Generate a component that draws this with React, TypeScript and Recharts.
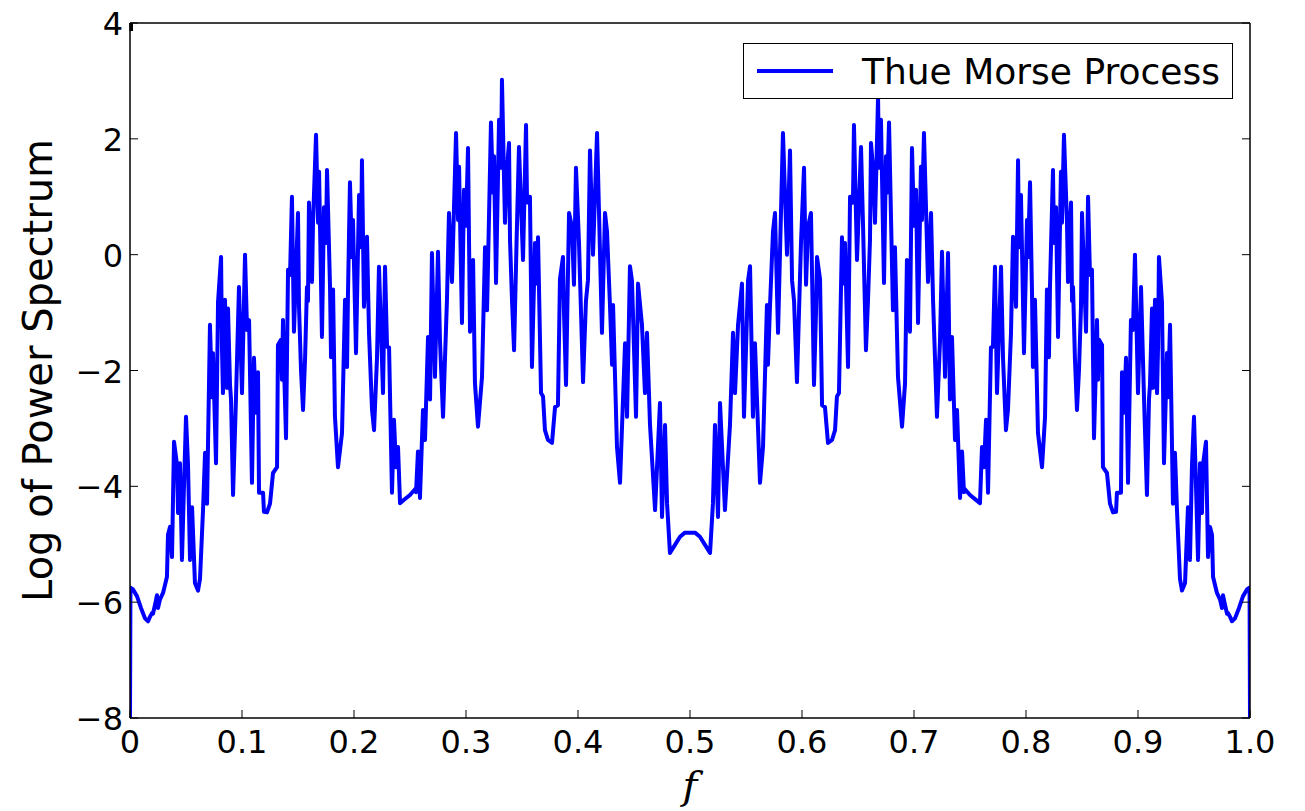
import React from "react";
import { LineChart, Line, XAxis, YAxis, Legend } from "recharts";

// frequency / log power (first half 0..0.5)
const freqLow = [
  0, 0.0004, 0.0027, 0.0063, 0.0098, 0.0134, 0.0161, 0.0179, 0.0196, 0.0205,
  0.0223, 0.0241, 0.025, 0.0268, 0.0295, 0.0313, 0.033, 0.0339, 0.0357, 0.0375,
  0.0393, 0.042, 0.0429, 0.0446, 0.0464, 0.0482, 0.05, 0.0518, 0.0536, 0.0554,
  0.058, 0.0607, 0.0625, 0.0652, 0.067, 0.0688, 0.0714, 0.0732, 0.0741, 0.0768,
  0.0786, 0.0813, 0.0821, 0.083, 0.0848, 0.0866, 0.0875, 0.0893, 0.0902, 0.092,
  0.0946, 0.0973, 0.1, 0.1027, 0.1045, 0.1063, 0.1089, 0.1107, 0.1125, 0.1143,
  0.1152, 0.1188, 0.1196, 0.1223, 0.125, 0.1277, 0.1313, 0.1321, 0.1348, 0.1357,
  0.1366, 0.1375, 0.1393, 0.1411, 0.1429, 0.1446, 0.1464, 0.1482, 0.15, 0.1509,
  0.1527, 0.1545, 0.1563, 0.158, 0.1589, 0.1598, 0.1625, 0.1634, 0.1661, 0.1679,
  0.1688, 0.1714, 0.1732, 0.175, 0.1759, 0.1786, 0.1795, 0.1813, 0.183, 0.1857,
  0.1893, 0.192, 0.1938, 0.1946, 0.1964, 0.1982, 0.1991, 0.2018, 0.2045, 0.2063,
  0.2071, 0.2089, 0.2116, 0.2134, 0.2161, 0.2179, 0.2205, 0.2223, 0.2259, 0.2277,
  0.2295, 0.2313, 0.2339, 0.2357, 0.2375, 0.2393, 0.2411, 0.2455, 0.25, 0.2545,
  0.2554, 0.2571, 0.2589, 0.2616, 0.2634, 0.2661, 0.2679, 0.2696, 0.2723, 0.275,
  0.2768, 0.2795, 0.283, 0.2848, 0.2875, 0.2911, 0.2929, 0.2938, 0.2964, 0.2982,
  0.3, 0.3018, 0.3036, 0.3063, 0.308, 0.3107, 0.3143, 0.317, 0.3188, 0.3223,
  0.3241, 0.325, 0.3268, 0.3295, 0.3313, 0.3321, 0.3348, 0.3366, 0.3384, 0.3393,
  0.3411, 0.3429, 0.3455, 0.3473, 0.3509, 0.3536, 0.3545, 0.3571, 0.3589, 0.3616,
  0.3634, 0.3643, 0.367, 0.3688, 0.3705, 0.3732, 0.3768, 0.3795, 0.3821, 0.3839,
  0.3866, 0.3875, 0.3893, 0.392, 0.3946, 0.3964, 0.3982, 0.4009, 0.4045, 0.4071,
  0.4089, 0.4107, 0.4134, 0.417, 0.4188, 0.4214, 0.4241, 0.4259, 0.4286, 0.4304,
  0.4313, 0.4348, 0.4375, 0.442, 0.4438, 0.4464, 0.4482, 0.4518, 0.4536, 0.4571,
  0.4598, 0.4616, 0.4643, 0.4688, 0.4732, 0.475, 0.4777, 0.4795, 0.4821, 0.4866,
  0.4911, 0.4955, 0.5,
];
const powerLow = [
  -8.0, -5.75, -5.78, -5.9, -6.1, -6.28, -6.33, -6.25, -6.19, -6.2,
  -6.05, -5.88, -6.1, -5.95, -5.84, -5.7, -5.56, -4.84, -4.7, -5.22,
  -3.23, -3.63, -4.46, -3.6, -5.27, -4.0, -2.8, -3.63, -5.27, -4.36,
  -5.67, -5.8, -5.6, -4.41, -3.42, -4.3, -1.21, -2.46, -1.7, -3.6,
  -0.82, -0.04, -1.59, -2.39, -0.78, -2.3, -0.93, -2.25, -2.5, -4.15,
  -2.5, -0.56, -2.39, 0.0, -1.3, -1.13, -3.94, -1.78, -2.73, -2.03,
  -4.11, -4.11, -4.44, -4.45, -4.3, -3.77, -3.67, -1.56, -1.47, -2.16,
  -1.13, -1.9, -3.17, -0.26, -0.35, 1.0, -1.33, -0.32, 0.72, -0.9,
  -2.0, -2.68, -1.8, -0.56, -0.8, 0.9, -0.47, 0.55, 2.07, 0.55,
  1.43, -1.42, 0.82, 0.2, 1.46, -0.56, -1.77, -0.6, -2.8, -3.67,
  -3.08, -0.78, -1.94, -0.7, 1.25, -0.04, 0.6, -1.7, 1.03, 0.13,
  1.63, -0.9, 0.31, -1.35, -2.68, -3.03, -1.8, -0.21, -2.39, -0.21,
  -1.59, -1.6, -4.11, -2.85, -3.67, -3.32, -4.29, -4.22, -4.15, -4.05,
  -4.1, -3.4, -4.2, -2.68, -3.2, -1.42, -2.5, 0.03, -2.11, 0.05,
  -1.5, -2.8, -0.78, 0.72, -0.47, 2.1, 0.6, 1.52, -1.18, 1.12,
  0.5, 1.84, -1.33, -0.09, -2.22, -2.97, -2.11, 0.13, -0.96, 2.28,
  1.07, 1.7, -0.49, 2.33, 1.5, 3.02, 0.55, 1.5, 1.93, 0.25,
  -0.8, -1.65, 0.5, 1.86, -0.09, 2.24, 0.9, 1.0, -1.94, 0.2,
  -0.5, 0.3, -2.39, -2.45, -3.03, -3.2, -3.25, -2.63, -2.6, -0.42,
  -0.04, -1.0, -2.25, 0.72, 0.48, -0.52, 1.5, 0.2, -2.2, -0.8,
  -0.44, 1.8, 0.0, 2.1, 0.7, -1.35, 0.72, 0.4, -0.9, -1.9,
  -0.87, -3.32, -3.94, -1.53, -2.8, -0.2, -0.45, -2.8, -0.5, -1.21,
  -2.39, -1.35, -2.94, -4.41, -2.56, -4.53, -2.94, -4.29, -5.15, -5.01,
  -4.87, -4.8, -4.8,
];

// second half 0.5..1
const freqHigh = [
  0.5045, 0.5089, 0.5134, 0.5179, 0.5205, 0.5223, 0.525, 0.5268, 0.5312, 0.5357,
  0.5384, 0.5402, 0.5429, 0.5464, 0.5482, 0.5518, 0.5536, 0.5562, 0.558, 0.5625,
  0.5652, 0.5687, 0.5696, 0.5714, 0.5741, 0.5759, 0.5786, 0.5812, 0.583, 0.5866,
  0.5893, 0.5911, 0.5929, 0.5955, 0.5991, 0.6018, 0.6036, 0.6054, 0.608, 0.6107,
  0.6125, 0.6134, 0.6161, 0.6179, 0.6205, 0.6232, 0.6268, 0.6295, 0.6312, 0.633,
  0.6357, 0.6366, 0.6384, 0.6411, 0.6429, 0.6455, 0.6464, 0.6491, 0.6527, 0.6545,
  0.6571, 0.6589, 0.6607, 0.6616, 0.6634, 0.6652, 0.6679, 0.6687, 0.6705, 0.6732,
  0.675, 0.6759, 0.6777, 0.6812, 0.683, 0.6857, 0.6893, 0.692, 0.6937, 0.6964,
  0.6982, 0.7, 0.7018, 0.7036, 0.7062, 0.7071, 0.7089, 0.7125, 0.7152, 0.717,
  0.7205, 0.7232, 0.725, 0.7277, 0.7304, 0.7321, 0.7339, 0.7366, 0.7384, 0.7411,
  0.7429, 0.7446, 0.7455, 0.75, 0.7545, 0.7589, 0.7607, 0.7625, 0.7643, 0.7661,
  0.7687, 0.7705, 0.7723, 0.7741, 0.7777, 0.7795, 0.7821, 0.7839, 0.7866, 0.7884,
  0.7911, 0.7929, 0.7937, 0.7955, 0.7982, 0.8009, 0.8018, 0.8036, 0.8054, 0.8062,
  0.808, 0.8107, 0.8143, 0.817, 0.8187, 0.8205, 0.8214, 0.8241, 0.825, 0.8268,
  0.8286, 0.8312, 0.8321, 0.8339, 0.8366, 0.8375, 0.8402, 0.8411, 0.842, 0.8437,
  0.8455, 0.8473, 0.8491, 0.85, 0.8518, 0.8536, 0.8554, 0.8571, 0.8589, 0.8607,
  0.8625, 0.8634, 0.8643, 0.8652, 0.8679, 0.8687, 0.8723, 0.875, 0.8777, 0.8804,
  0.8812, 0.8848, 0.8857, 0.8875, 0.8893, 0.8911, 0.8937, 0.8955, 0.8973, 0.9,
  0.9027, 0.9054, 0.908, 0.9098, 0.9107, 0.9125, 0.9134, 0.9152, 0.917, 0.9179,
  0.9187, 0.9214, 0.9232, 0.9259, 0.9268, 0.9286, 0.9312, 0.933, 0.9348, 0.9375,
  0.9393, 0.942, 0.9446, 0.9464, 0.9482, 0.95, 0.9518, 0.9536, 0.9554, 0.9571,
  0.958, 0.9607, 0.9625, 0.9643, 0.9661, 0.967, 0.9687, 0.9705, 0.9732, 0.975,
  0.9759, 0.9777, 0.9795, 0.9804, 0.9821, 0.9839, 0.9866, 0.9902, 0.9937, 0.9973,
  0.9996, 1.0,
];
const powerHigh = [
  -4.8, -4.87, -5.01, -5.15, -4.29, -2.94, -4.53, -2.56, -4.41, -2.94,
  -1.35, -2.39, -1.21, -0.5, -2.8, -0.45, -0.2, -2.8, -1.53, -3.94,
  -3.32, -0.87, -1.9, -0.9, 0.4, 0.72, -1.35, 0.7, 2.1, 0.0,
  1.8, -0.44, -0.8, -2.2, 0.2, 1.5, -0.52, 0.48, 0.72, -2.25,
  -1.0, -0.04, -0.42, -2.6, -2.63, -3.25, -3.2, -3.03, -2.45, -2.39,
  0.3, -0.5, 0.2, -1.94, 1.0, 0.9, 2.24, -0.09, 1.86, 0.5,
  -1.65, -0.8, 0.25, 1.93, 1.5, 0.55, 2.72, 1.5, 2.33, -0.49,
  1.7, 1.07, 2.28, -0.96, 0.13, -2.11, -2.97, -2.22, -0.09, -1.33,
  1.84, 0.5, 1.12, -1.18, 1.52, 0.6, 2.1, -0.47, 0.72, -0.78,
  -2.8, -1.5, 0.05, -2.11, 0.03, -2.5, -1.42, -3.2, -2.68, -4.2,
  -3.4, -4.1, -4.05, -4.15, -4.22, -4.29, -3.32, -3.67, -2.85, -4.11,
  -1.6, -1.59, -0.21, -2.39, -0.21, -1.8, -3.03, -2.68, -1.35, 0.31,
  -0.9, 1.63, 0.13, 1.03, -1.7, 0.6, -0.04, 1.25, -0.7, -1.94,
  -0.78, -3.08, -3.67, -2.8, -0.6, -1.77, -0.56, 1.46, 0.2, 0.82,
  -1.42, 1.43, 0.55, 2.07, 0.55, -0.47, 0.9, -0.8, -0.56, -1.8,
  -2.68, -2.0, -0.9, 0.72, -0.32, -1.33, 1.0, -0.35, -0.26, -3.17,
  -1.9, -1.13, -2.16, -1.47, -1.56, -3.67, -3.77, -4.3, -4.45, -4.44,
  -4.11, -4.11, -2.03, -2.73, -1.78, -3.94, -1.13, -1.3, 0.0, -2.39,
  -0.56, -2.5, -4.15, -2.5, -2.25, -0.93, -2.3, -0.78, -2.39, -1.59,
  -0.04, -0.82, -3.6, -1.7, -2.46, -1.21, -4.3, -3.42, -4.41, -5.6,
  -5.8, -5.67, -4.36, -5.27, -3.63, -2.8, -4.0, -5.27, -3.6, -4.46,
  -3.63, -3.23, -5.22, -4.7, -4.84, -5.56, -5.7, -5.84, -5.95, -6.1,
  -5.88, -6.05, -6.2, -6.19, -6.25, -6.33, -6.28, -6.1, -5.9, -5.78,
  -5.75, -8.0,
];

const xTicks = [0, 0.1, 0.2, 0.3, 0.4, 0.5, 0.6, 0.7, 0.8, 0.9, 1.0];
const yTicks = [-8, -6, -4, -2, 0, 2, 4];
const seriesName = "Thue Morse Process";

const data = [
  ...freqLow.map((f, i) => ({ f, p: powerLow[i] })),
  ...freqHigh.map((f, i) => ({ f, p: powerHigh[i] })),
];

const FONT = "DejaVu Sans, Bitstream Vera Sans, sans-serif";
const BLUE = "#0000ff";
const TICK = 8;

const fmtX = (v: number) => (v === 0 ? "0" : v.toFixed(1));
const fmtY = (v: number) => (v < 0 ? "\u2212" + Math.abs(v) : String(v));

function BottomTick({ x, y, payload }: any) {
  return (
    <g>
      <line x1={x} y1={y} x2={x} y2={y - TICK} stroke="#000" strokeWidth={1} />
      <text x={x} y={y + 35} textAnchor="middle" fontSize={32} fontFamily={FONT} fill="#000">
        {fmtX(payload.value)}
      </text>
    </g>
  );
}

function TopTick({ x, y }: any) {
  return <line x1={x} y1={y} x2={x} y2={y + TICK} stroke="#000" strokeWidth={1} />;
}

function LeftTick({ x, y, payload }: any) {
  return (
    <g>
      <line x1={x} y1={y} x2={x + TICK} y2={y} stroke="#000" strokeWidth={1} />
      <text x={x - 7} y={y + 12} textAnchor="end" fontSize={32} fontFamily={FONT} fill="#000">
        {fmtY(payload.value)}
      </text>
    </g>
  );
}

function RightTick({ x, y }: any) {
  return <line x1={x} y1={y} x2={x - TICK} y2={y} stroke="#000" strokeWidth={1} />;
}

function LegendBox() {
  return (
    <div
      style={{
        width: 490,
        height: 56,
        border: "1.5px solid #000",
        background: "#fff",
        boxSizing: "border-box",
        display: "flex",
        alignItems: "center",
      }}
    >
      <svg width={99} height={20} style={{ marginLeft: 13 }}>
        <line x1={0} y1={10} x2={76} y2={10} stroke={BLUE} strokeWidth={4} />
      </svg>
      <span style={{ fontFamily: FONT, fontSize: 36, color: "#000", marginLeft: 6, whiteSpace: "nowrap" }}>
        {seriesName}
      </span>
    </div>
  );
}

export default function App() {
  return (
    <div style={{ position: "absolute", left: 0, top: 0, background: "#fff" }}>
      <LineChart width={1305} height={811} data={data} margin={{ top: 0, right: 0, bottom: 0, left: 0 }}>
        <XAxis
          xAxisId="b"
          dataKey="f"
          type="number"
          domain={[0, 1]}
          ticks={xTicks}
          allowDataOverflow
          orientation="bottom"
          height={93}
          tickSize={0}
          tickMargin={0}
          tickLine={false}
          tick={<BottomTick />}
          axisLine={{ stroke: "#000", strokeWidth: 1.5 }}
          interval={0}
          label={{
            value: "f",
            position: "insideBottom",
            offset: 12,
            style: { fontFamily: "DejaVu Serif, serif", fontStyle: "italic", fontSize: 40, fill: "#000" },
          }}
        />
        <XAxis
          xAxisId="t"
          type="number"
          domain={[0, 1]}
          ticks={xTicks}
          allowDataOverflow
          orientation="top"
          height={23}
          tickSize={0}
          tickMargin={0}
          tickLine={false}
          tick={<TopTick />}
          axisLine={{ stroke: "#000", strokeWidth: 1.5 }}
          interval={0}
        />
        <YAxis
          yAxisId="l"
          type="number"
          domain={[-8, 4]}
          ticks={yTicks}
          allowDataOverflow
          width={130}
          tickSize={0}
          tickMargin={0}
          tickLine={false}
          tick={<LeftTick />}
          axisLine={{ stroke: "#000", strokeWidth: 1.5 }}
          interval={0}
          label={{
            value: "Log of Power Spectrum",
            angle: -90,
            position: "insideLeft",
            offset: 38,
            style: { textAnchor: "middle", fontFamily: FONT, fontSize: 40, fill: "#000" },
          }}
        />
        <YAxis
          yAxisId="r"
          orientation="right"
          type="number"
          domain={[-8, 4]}
          ticks={yTicks}
          allowDataOverflow
          width={55}
          tickSize={0}
          tickMargin={0}
          tickLine={false}
          tick={<RightTick />}
          axisLine={{ stroke: "#000", strokeWidth: 1.5 }}
          interval={0}
        />
        <Legend
          layout="horizontal"
          verticalAlign="middle"
          align="center"
          content={<LegendBox />}
          wrapperStyle={{ position: "absolute", left: 743, top: 43, width: "auto", height: "auto" }}
        />
        <Line
          xAxisId="b"
          yAxisId="l"
          type="linear"
          dataKey="p"
          name={seriesName}
          stroke={BLUE}
          strokeWidth={4}
          strokeLinejoin="round"
          dot={false}
          activeDot={false}
          isAnimationActive={false}
        />
      </LineChart>
    </div>
  );
}
